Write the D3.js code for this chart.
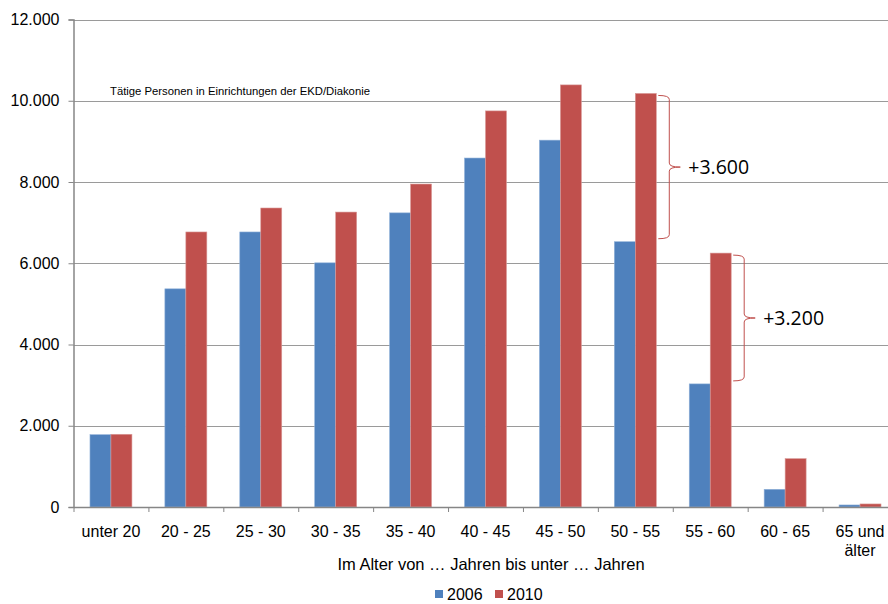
<!DOCTYPE html>
<html>
<head>
<meta charset="utf-8">
<script src="https://cdn.jsdelivr.net/npm/d3@7"></script>
<style>
  html, body { margin: 0; padding: 0; background: #fff; }
  svg { display: block; }
  text { font-family: "Liberation Sans", Arial, sans-serif; fill: #000; }
</style>
</head>
<body>
<svg id="chart" width="888" height="604"></svg>
<script>
// Altersgruppen (Kategorien der x-Achse)
const categories = ["unter 20", "20 - 25", "25 - 30", "30 - 35", "35 - 40", "40 - 45",
                    "45 - 50", "50 - 55", "55 - 60", "60 - 65", "65 und\nälter"];
// Tätige Personen je Altersgruppe
const values2006 = [1780, 5370, 6770, 6010, 7240, 8590, 9030, 6530, 3030, 435, 50];
const values2010 = [1790, 6770, 7360, 7260, 7950, 9750, 10390, 10180, 6250, 1190, 75];
const seriesNames = ["2006", "2010"];
const yTicks = [0, 2000, 4000, 6000, 8000, 10000, 12000];
// Zuwachs-Markierungen (Klammer zwischen 2006 und 2010)
const bracketCategories = ["50 - 55", "55 - 60"];
const bracketLabels = ["+3.600", "+3.200"];

const colors = { "2006": "#4F81BD", "2010": "#C0504D" };

const svg = d3.select("#chart");
const plot = { left: 73.5, right: 897.5, top: 19.5, bottom: 507 };

const x = d3.scaleBand().domain(categories).range([plot.left, plot.right]).paddingInner(0).paddingOuter(0);
const y = d3.scaleLinear().domain([0, 12000]).range([plot.bottom, plot.top]);
const barW = x.bandwidth() * 0.28;

const fmt = v => d3.format(",")(v).replace(/,/g, ".");

// Gitterlinien
svg.append("g").selectAll("line").data(yTicks.filter(t => t > 0)).join("line")
  .attr("x1", plot.left).attr("x2", 888)
  .attr("y1", d => Math.round(y(d)) + 0.5).attr("y2", d => Math.round(y(d)) + 0.5)
  .attr("stroke", "#9a9a9a").attr("stroke-width", 1);

// Balken
const rows = categories.map((c, i) => ({ c, v2006: values2006[i], v2010: values2010[i] }));
const gBars = svg.append("g");
rows.forEach(r => {
  const cx = x(r.c) + x.bandwidth() / 2;
  gBars.append("rect")
    .attr("x", cx - barW).attr("width", barW)
    .attr("y", y(r.v2006)).attr("height", y(0) - y(r.v2006))
    .attr("fill", colors["2006"]).attr("stroke", "#8fb0d8").attr("stroke-width", 0.6);
  gBars.append("rect")
    .attr("x", cx).attr("width", barW)
    .attr("y", y(r.v2010)).attr("height", y(0) - y(r.v2010))
    .attr("fill", colors["2010"]).attr("stroke", "#d99a98").attr("stroke-width", 0.6);
});

// y-Achse
const yAxis = d3.axisLeft(y).tickValues(yTicks).tickSize(5).tickPadding(8).tickFormat(fmt);
const gy = svg.append("g").attr("transform", `translate(${plot.left},0)`).call(yAxis);
gy.select(".domain").attr("stroke", "#868686").attr("stroke-width", 1.5);
gy.selectAll(".tick line").attr("stroke", "#868686");
gy.selectAll(".tick text").style("font-size", "16px").attr("fill", "#000").attr("dx", "-1");

// x-Achse
const xAxis = d3.axisBottom(x).tickSize(0).tickFormat("");
const gx = svg.append("g").attr("transform", `translate(0,${plot.bottom})`).call(xAxis);
gx.select(".domain").attr("stroke", "#868686").attr("stroke-width", 1.5);
// Trennstriche zwischen den Kategorien
svg.append("g").selectAll("line").data(categories).join("line")
  .attr("x1", d => x(d) + 0.5).attr("x2", d => x(d) + 0.5)
  .attr("y1", plot.bottom).attr("y2", plot.bottom + 5)
  .attr("stroke", "#868686");

// Kategorienbeschriftung
const gLab = svg.append("g");
categories.forEach(c => {
  const lines = c.split("\n");
  const t = gLab.append("text")
    .attr("x", x(c) + x.bandwidth() / 2).attr("y", 537)
    .attr("text-anchor", "middle").style("font-size", "16px");
  lines.forEach((l, i) => t.append("tspan").attr("x", x(c) + x.bandwidth() / 2)
    .attr("dy", i === 0 ? 0 : 18.5).text(l));
});

// Achsentitel
svg.append("text").attr("x", 491).attr("y", 570).attr("text-anchor", "middle")
  .style("font-size", "16.5px")
  .text("Im Alter von … Jahren bis unter … Jahren");

// Titel im Diagramm
svg.append("text").attr("x", 110).attr("y", 95).style("font-size", "11.3px")
  .text("Tätige Personen in Einrichtungen der EKD/Diakonie");

// Legende
const leg = svg.append("g");
const legX = [435, 495];
seriesNames.forEach((s, i) => {
  leg.append("rect").attr("x", legX[i]).attr("y", 590).attr("width", 8).attr("height", 8)
    .attr("fill", colors[s]);
  leg.append("text").attr("x", legX[i] + 12).attr("y", 600).style("font-size", "16px").text(s);
});

// Klammern mit Zuwachs
bracketCategories.forEach((c, k) => {
  const i = categories.indexOf(c);
  const cx = x(c) + x.bandwidth() / 2;
  const x0 = cx + barW + 2;
  const y1 = y(values2010[i]) + 2;
  const y2 = y(values2006[i]) - 3;
  const w = 11, tip = 11;
  const ym = (y1 + y2) / 2;
  const r = 4;
  const p = d3.path();
  p.moveTo(x0, y1);
  p.quadraticCurveTo(x0 + w, y1, x0 + w, y1 + r);
  p.lineTo(x0 + w, ym - r);
  p.quadraticCurveTo(x0 + w, ym, x0 + w + tip, ym);
  p.quadraticCurveTo(x0 + w, ym, x0 + w, ym + r);
  p.lineTo(x0 + w, y2 - r);
  p.quadraticCurveTo(x0 + w, y2, x0, y2);
  svg.append("path").attr("d", p.toString()).attr("fill", "none")
    .attr("stroke", "#C0504D").attr("stroke-width", 1);
  svg.append("text").attr("x", x0 + w + tip + 8).attr("y", ym + 7)
    .style("font-family", "'Open Sans', sans-serif").style("font-size", "19.5px")
    .text(bracketLabels[k]);
});
</script>
</body>
</html>
